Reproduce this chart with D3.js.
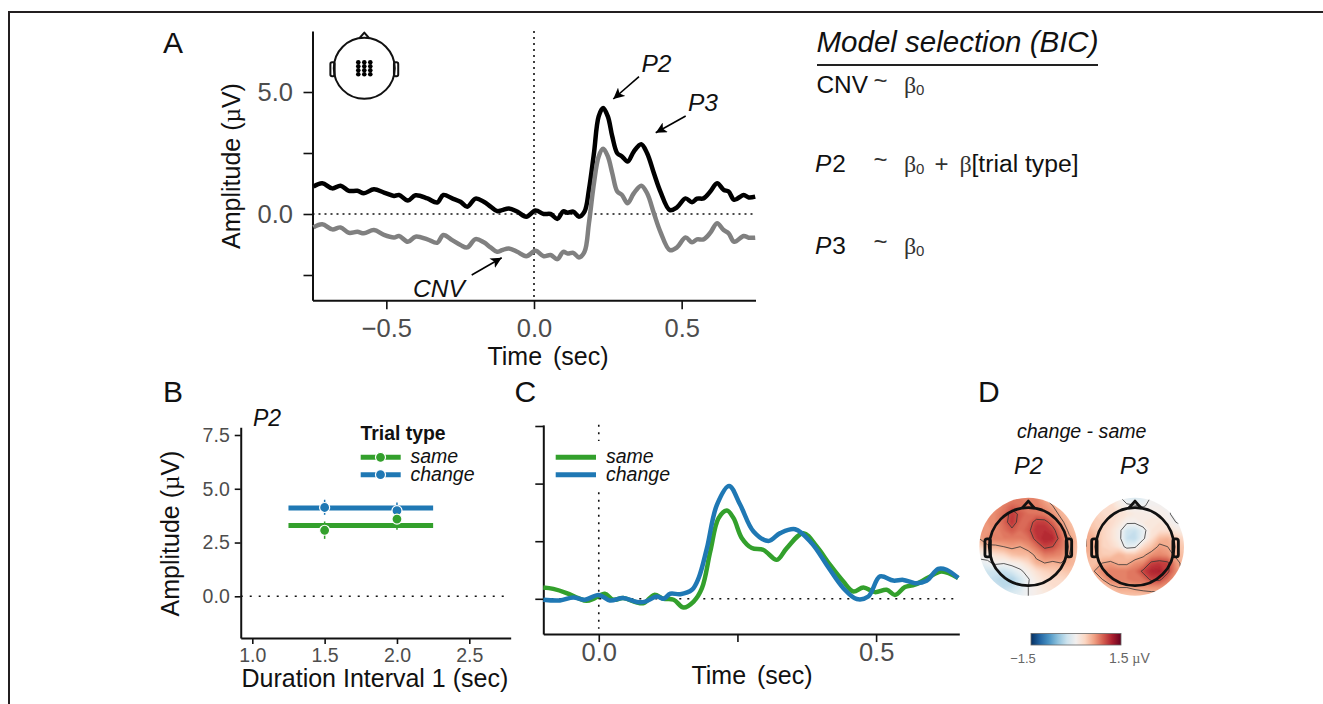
<!DOCTYPE html>
<html lang="en">
<head>
  <meta charset="UTF-8">
  <title>ERP amplitude and model selection</title>
  <script src="https://d3js.org/d3.v7.min.js"></script>
  <style>
    body { margin: 0; padding: 0; background-color: #fff; }
    svg { display: block; }
    text { font-family: "Liberation Sans", Arial, sans-serif; }
    .tick-label text { fill: #4d4d4d; }
    .it { font-style: italic; }
    .sym { font-family: "Liberation Serif", serif; }
  </style>
</head>
<body>
  <svg width="1323" height="704"></svg>
  <script>
    // panel A, time in sec, amplitude in uV
    const timeA = [-.747,-.717,-.683,-.655,-.627,-.598,-.576,-.542,-.508,-.474,-.457,-.427,-.401,-.361,-.328,-.307,-.277,-.249,-.226,-.198,-.17,-.147,-.125,-.108,-.085,-.057,-.026,.005,.033,.056,.079,.099,.114,.133,.152,.171,.186,.203,.219,.234,.25,.265,.282,.298,.317,.338,.363,.383,.406,.428,.46,.484,.513,.535,.552,.574,.597,.62,.642,.659,.678,.71,.727,.749];
    const meanBlack = [1.12,1.26,1.05,1.16,.95,.95,.85,1.01,.88,.74,.78,.55,.77,.64,.47,.78,.64,.5,.3,.63,.5,.3,.12,.16,.23,.1,-.11,.14,0,0,-.2,.11,.05,.1,-.11,.1,.99,2.49,4.0,4.34,4.0,3.18,2.49,2.36,2.15,2.56,2.86,2.49,1.67,.92,.16,.27,.64,.48,.63,.64,.92,1.26,.99,.92,.58,.78,.68,.71];
    const meanGray = [-.55,-.42,-.63,-.55,-.77,-.73,-.79,-.66,-.86,-.96,-.9,-1.14,-.93,-1.04,-1.18,-.86,-1.07,-1.27,-1.37,-1.03,-1.16,-1.37,-1.55,-1.48,-1.41,-1.55,-1.73,-1.51,-1.73,-1.68,-1.85,-1.55,-1.62,-1.59,-1.78,-1.55,-.38,1.26,2.36,2.67,2.36,1.67,.92,.78,.44,.85,1.16,.85,.03,-.73,-1.48,-1.37,-.96,-1.16,-1.04,-1.04,-.77,-.38,-.66,-.79,-1.14,-.9,-.97,-.97];
    const ticksAx = [-0.5, 0, 0.5];
    const ticksAy = [-2.5, 0, 2.5, 5];
    const labelledAy = [0, 5];

    // panel B
    const durations = [1.5, 2.0];
    const modelSpan = [1.25, 2.25];
    const sameFit = 3.29;
    const changeFit = 4.11;
    const sameMean = [3.07, 3.59];
    const changeMean = [4.13, 3.98];
    const sameLow = [2.67, 3.1];
    const sameHigh = [3.48, 3.87];
    const changeLow = [3.79, 3.63];
    const changeHigh = [4.49, 4.36];
    const ticksBx = [1, 1.5, 2, 2.5];
    const ticksBy = [0, 2.5, 5, 7.5];

    // panel C
    const timeSame = [-.1,-.082,-.058,-.037,-.022,-.007,.011,.026,.044,.066,.081,.1,.117,.135,.153,.171,.186,.201,.216,.231,.243,.258,.276,.297,.321,.339,.369,.393,.417,.441,.459,.477,.498,.519,.534,.552,.57,.594,.618,.648];
    const ampSame = [.49,.43,.25,.03,-.09,.03,.22,-.04,.03,-.14,-.19,.17,0,-.04,-.38,-.12,.46,2.05,3.5,3.83,3.5,2.63,2.2,2.12,1.69,2.2,2.85,2.27,1.47,.75,.32,.49,.29,.39,.17,.51,.61,.92,1.18,.9];
    const timeChange = [-.1,-.07,-.046,-.025,0,.02,.044,.069,.084,.105,.117,.129,.147,.168,.18,.195,.213,.235,.255,.279,.306,.327,.354,.384,.411,.441,.465,.486,.507,.531,.549,.57,.591,.612,.627,.648];
    const ampChange = [-.04,-.07,.06,-.04,.17,-.07,.03,-.14,-.12,.1,0,.22,.2,.39,.9,2.2,4.08,4.9,4.08,2.92,2.51,2.85,3.02,2.41,1.47,.46,-.01,.1,.97,.79,.82,.68,.78,1.3,1.26,.9];
    const ticksCx = [0, 0.25, 0.5];
    const labelledCx = [0, 0.5];
    const ticksCy = [0, 2.5, 5, 7.5];

    // panel D, change - same in uV, 13 x 13 cells, top row first
    const topoP2 = [
      .7,.7,.7,.7,.75,.8,.8,.75,.6,.5,.45,.4,.4,
      .7,.7,.7,.8,.9,.85,.8,.8,.7,.6,.5,.4,.4,
      .65,.7,.75,.85,1.1,.95,.85,.85,.8,.7,.55,.45,.4,
      .7,.7,.75,.9,1.12,.9,.9,1.08,1.08,.9,.65,.5,.4,
      .75,.65,.75,.85,.95,.85,.95,1.15,1.15,1.08,.8,.55,.45,
      .6,.75,.8,.8,.8,.8,.85,1.08,1.2,1.18,.9,.65,.5,
      .3,.55,.55,.6,.65,.6,.7,.85,1.05,1.0,.85,.65,.45,
      .1,.1,.25,.3,.45,.5,.5,.65,.8,.8,.75,.6,.45,
      -.1,-.05,.05,.02,.1,.15,.3,.55,.6,.55,.6,.55,.5,
      -.3,-.25,-.25,-.3,-.2,-.05,.1,.25,.35,.4,.4,.45,.45,
      -.3,-.3,-.35,-.4,-.45,-.25,-.02,.15,.25,.3,.3,.35,.35,
      -.25,-.25,-.3,-.35,-.3,-.2,0,.1,.2,.25,.25,.3,.3,
      -.2,-.2,-.2,-.2,-.15,-.1,0,.1,.15,.2,.2,.25,.25
    ];
    const topoP3 = [
      .3,.3,.3,.25,.05,-.15,-.2,-.15,.02,.05,.05,0,0,
      .35,.3,.3,.3,.15,.05,.02,-.02,.05,.05,.03,-.05,-.1,
      .4,.35,.3,.3,.25,.2,.15,.15,.1,.1,.05,-.1,-.15,
      .45,.4,.35,.3,.2,.05,.05,.15,.2,.2,.1,0,-.1,
      .55,.45,.35,.25,.1,-.25,-.3,-.1,.2,.25,.25,.15,.1,
      .6,.55,.35,.25,.1,-.3,-.35,-.05,.25,.5,.55,.4,.3,
      .6,.55,.35,.3,.2,-.1,-.05,.3,.45,.65,.6,.5,.4,
      .55,.5,.4,.4,.55,.45,.45,.55,.7,.75,.7,.55,.45,
      .5,.45,.6,.65,.55,.55,.7,.75,1.05,1.1,1.05,.7,.5,
      .45,.6,.75,.8,.8,.8,.85,1.05,1.2,1.22,1.05,.75,.5,
      .35,.45,.6,.8,.8,.8,.85,.85,1.05,1.05,.85,.65,.5,
      .3,.35,.45,.5,.6,.6,.65,.7,.7,.7,.65,.55,.45,
      .3,.3,.35,.4,.45,.45,.45,.45,.5,.5,.45,.4,.4
    ];
    const contourLevels = [0, 0.6, 1.0];
    const colorRange = [-1.5, 1.5];

    // sensors on the small head in A
    const sensorX = [-6, 0, 6];
    const sensorY = [-6, -2, 2, 6];

    const green = "#33a02c";
    const blue = "#1f78b4";
    const svg = d3.select("svg");

    // outer frame, open at the right and bottom
    svg.append("path")
      .attr("d", "M9,704V12H1323")
      .attr("fill", "none")
      .attr("stroke", "#231f20")
      .attr("stroke-width", 2);

    const defs = svg.append("defs");
    defs.append("marker")
      .attr("id", "arrow")
      .attr("viewBox", "0 0 10 10")
      .attr("refX", 10).attr("refY", 5)
      .attr("markerWidth", 11).attr("markerHeight", 11)
      .attr("markerUnits", "userSpaceOnUse")
      .attr("orient", "auto")
      .append("path")
      .attr("d", "M0,0L10,5L0,10L2.5,5Z")
      .attr("fill", "#000");
    defs.append("filter").attr("id", "soft")
      .append("feGaussianBlur").attr("stdDeviation", 1);

    function label(x, y, txt, size, cls, anchor) {
      return svg.append("text")
        .attr("x", x).attr("y", y)
        .attr("font-size", size)
        .attr("class", cls || null)
        .attr("text-anchor", anchor || "start")
        .attr("fill", "#111")
        .text(txt);
    }

    function yTitle(x, y, size) {
      const t = svg.append("text")
        .attr("transform", `translate(${x},${y}) rotate(-90)`)
        .attr("text-anchor", "middle")
        .attr("font-size", size)
        .attr("fill", "#111");
      t.append("tspan").text("Amplitude (");
      t.append("tspan").attr("class", "sym").text("µ");
      t.append("tspan").text("V)");
    }

    // draws both axes with d3 and strips the parts we dont want
    function axes(x, y, o) {
      const [x0, x1] = x.range();
      const [y0, y1] = y.range();
      const gx = svg.append("g")
        .attr("class", "tick-label")
        .attr("transform", `translate(0,${y0})`)
        .call(d3.axisBottom(x).tickValues(o.xTicks).tickSize(o.tick).tickSizeOuter(0).tickPadding(o.padX)
          .tickFormat(d => o.xLabels.includes(d) ? d3.format(".1f")(d).replace("-", "\u2212") : ""));
      const gy = svg.append("g")
        .attr("class", "tick-label")
        .attr("transform", `translate(${x0},0)`)
        .call(d3.axisLeft(y).tickValues(o.yTicks).tickSize(o.tick).tickSizeOuter(0).tickPadding(o.padY)
          .tickFormat(d => o.yLabels.includes(d) ? d3.format(".1f")(d) : ""));
      [gx, gy].forEach(g => {
        g.selectAll("text").attr("font-size", o.font).attr("font-family", null);
        g.selectAll("line").attr("stroke", "#111").attr("stroke-width", 1.6);
        g.select(".domain").attr("stroke", "#111").attr("stroke-width", 2);
      });
    }

    function dotted(x1, y1, x2, y2, gap) {
      svg.append("line")
        .attr("x1", x1).attr("y1", y1).attr("x2", x2).attr("y2", y2)
        .attr("stroke", "#111")
        .attr("stroke-width", 1.6)
        .attr("stroke-dasharray", `2 ${gap}`);
    }

    function trace(x, y, xs, ys, color, w) {
      const line = d3.line()
        .x((d, i) => x(xs[i]))
        .y(d => y(d))
        .curve(d3.curveCatmullRom.alpha(0.5));
      svg.append("path")
        .attr("d", line(ys))
        .attr("fill", "none")
        .attr("stroke", color)
        .attr("stroke-width", w)
        .attr("stroke-linejoin", "round");
    }

    // ---- panel A
    const xA = d3.scaleLinear().domain([-0.75, 0.75]).range([312.5, 755.5]);
    const yA = d3.scaleLinear().domain([0, 5]).range([214, 92]);
    yA.range([yA(-3.53), yA(7.5)]).domain([-3.53, 7.5]);

    axes(xA, yA, { xTicks: ticksAx, yTicks: ticksAy, xLabels: ticksAx, yLabels: labelledAy, tick: 9, padX: 10, padY: 10.5, font: 25.5 });
    dotted(xA(-0.75), yA(0), xA(0.75), yA(0), 4);
    dotted(xA(0), yA(7.5), xA(0), yA(-3.53), 4);
    trace(xA, yA, timeA, meanBlack, "#000", 4.5);
    trace(xA, yA, timeA, meanGray, "#808080", 4.5);

    label(163, 53, "A", 30);
    yTitle(240, 166, 25);
    label(548, 365, "Time (sec)", 25, null, "middle").attr("word-spacing", 4);
    label(641.5, 71.5, "P2", 24.5, "it");
    label(688, 110.5, "P3", 24.5, "it");
    label(413, 296.5, "CNV", 24.5, "it");

    const arrowLines = [[639, 76.7, 613.3, 99], [685.7, 116, 655.7, 132.7], [471.7, 275, 501.7, 257.7]];
    svg.selectAll(".arrow-line")
      .data(arrowLines)
      .enter()
      .append("line")
      .attr("x1", d => d[0]).attr("y1", d => d[1])
      .attr("x2", d => d[2]).attr("y2", d => d[3])
      .attr("stroke", "#000")
      .attr("stroke-width", 1.6)
      .attr("marker-end", "url(#arrow)");

    function head(cx, cy, r, w) {
      const g = svg.append("g").attr("transform", `translate(${cx},${cy})`)
        .attr("fill", "none").attr("stroke", "#111").attr("stroke-width", w);
      const earW = r * 0.14, earH = r * 0.46;
      g.append("path").attr("d", `M${-r * 0.16},${-r * 0.985}L0,${-r * 1.17}L${r * 0.16},${-r * 0.985}`).attr("stroke-linejoin", "round");
      [-1, 1].forEach(s => {
        g.append("rect")
          .attr("x", s < 0 ? -r - earW * 0.8 : r - earW * 0.2)
          .attr("y", -earH / 2 + r * 0.03)
          .attr("width", earW).attr("height", earH)
          .attr("rx", earW * 0.4);
      });
      g.append("circle").attr("r", r);
      return g;
    }

    const inset = head(364.3, 68.3, 30.5, 2);
    sensorY.forEach(dy => sensorX.forEach(dx => {
      inset.append("circle").attr("cx", dx).attr("cy", dy).attr("r", 2.3)
        .attr("fill", "#000").attr("stroke", "none");
    }));

    // ---- model selection text
    label(816.5, 51.5, "Model selection (BIC)", 29.5, "it");
    svg.append("line")
      .attr("x1", 817).attr("x2", 1098).attr("y1", 65).attr("y2", 65)
      .attr("stroke", "#222").attr("stroke-width", 2);

    function beta(x, y, sub) {
      svg.append("text").attr("class", "sym").attr("x", x).attr("y", y)
        .attr("font-size", 24).attr("fill", "#333").text("β");
      if (sub) label(x + 12, y + 2, "0", 15).attr("fill", "#333");
    }
    function tilde(y) {
      svg.append("text").attr("x", 873.5).attr("y", y)
        .attr("font-size", 24).attr("fill", "#333").text("~");
    }
    const rowY = [93, 171.5, 254];
    label(816.5, rowY[0], "CNV", 24.4);
    [["P", "2", rowY[1]], ["P", "3", rowY[2]]].forEach(d => {
      const t = label(815, d[2], "", 24.4);
      t.append("tspan").attr("class", "it").text(d[0]);
      t.append("tspan").attr("dx", 1).text(d[1]);
    });
    rowY.forEach((y, i) => {
      tilde(y - 4);
      beta(904, y, true);
    });
    label(934.5, rowY[1], "+", 24).attr("fill", "#333");
    beta(959.5, rowY[1], false);
    label(971.5, rowY[1], "[trial type]", 24.7);

    // ---- panel B
    const xB = d3.scaleLinear().domain([1, 2.5]).range([252.3, 469.3]);
    xB.range([xB(0.92), xB(2.786)]).domain([0.92, 2.786]);
    const yB = d3.scaleLinear().domain([0, 7.5]).range([596.3, 435]);
    yB.range([yB(-1.94), yB(7.86)]).domain([-1.94, 7.86]);

    axes(xB, yB, { xTicks: ticksBx, yTicks: ticksBy, xLabels: ticksBx, yLabels: ticksBy, tick: 6, padX: 4, padY: 5, font: 19.5 });
    dotted(xB.range()[0], yB(0), xB.range()[1], yB(0), 7);

    function fitRow(fit, mean, low, high, color) {
      svg.append("line")
        .attr("x1", xB(modelSpan[0])).attr("x2", xB(modelSpan[1]))
        .attr("y1", yB(fit)).attr("y2", yB(fit))
        .attr("stroke", "#fff").attr("stroke-width", 7);
      svg.append("line")
        .attr("x1", xB(modelSpan[0])).attr("x2", xB(modelSpan[1]))
        .attr("y1", yB(fit)).attr("y2", yB(fit))
        .attr("stroke", color).attr("stroke-width", 5);
      durations.forEach((d, i) => {
        svg.append("line")
          .attr("x1", xB(d)).attr("x2", xB(d))
          .attr("y1", yB(low[i])).attr("y2", yB(high[i]))
          .attr("stroke", color).attr("stroke-width", 1.5);
      });
      svg.append("g").selectAll("circle")
        .data(mean)
        .enter()
        .append("circle")
        .attr("cx", (d, i) => xB(durations[i]))
        .attr("cy", d => yB(d))
        .attr("r", 5)
        .attr("fill", color)
        .attr("stroke", "#fff")
        .attr("stroke-width", 1.2);
    }
    fitRow(changeFit, changeMean, changeLow, changeHigh, blue);
    fitRow(sameFit, sameMean, sameLow, sameHigh, green);

    label(163, 402, "B", 30);
    yTitle(179, 533.5, 25);
    label(241.5, 686.5, "Duration Interval 1 (sec)", 25);
    label(253, 426, "P2", 23, "it");
    label(360.5, 440, "Trial type", 19.4).attr("font-weight", "bold");

    [[green, 457.3, "same", 462.5], [blue, 474.7, "change", 480.5]].forEach(d => {
      svg.append("line")
        .attr("x1", 360.7).attr("x2", 400.7).attr("y1", d[1]).attr("y2", d[1])
        .attr("stroke", d[0]).attr("stroke-width", 5);
      svg.append("circle")
        .attr("cx", 380.5).attr("cy", d[1]).attr("r", 5)
        .attr("fill", d[0]).attr("stroke", "#fff").attr("stroke-width", 1.2);
      label(410.5, d[3], d[2], 19.5, "it");
    });

    // ---- panel C
    const xC = d3.scaleLinear().domain([-0.1, 0.65]).range([543.3, 959.3]);
    const yC = d3.scaleLinear().domain([0, 7.5]).range([598.8, 426]);
    yC.range([yC(-1.53), yC(7.55)]).domain([-1.53, 7.55]);

    axes(xC, yC, { xTicks: ticksCx, yTicks: ticksCy, xLabels: labelledCx, yLabels: [], tick: 8, padX: 1, padY: 4, font: 25.5 });
    dotted(xC.range()[0], yC(0), xC.range()[1], yC(0), 6);
    dotted(xC(0), yC(7.55), xC(0), yC(-1.3), 5.5);
    svg.append("rect")
      .attr("x", 552).attr("y", 441).attr("width", 120).attr("height", 50)
      .attr("fill", "#fff");
    trace(xC, yC, timeSame, ampSame, green, 4.5);
    trace(xC, yC, timeChange, ampChange, blue, 4.5);

    [[green, 457.3, "same", 462.5], [blue, 474.7, "change", 480.5]].forEach(d => {
      svg.append("line")
        .attr("x1", 555.7).attr("x2", 596).attr("y1", d[1]).attr("y2", d[1])
        .attr("stroke", d[0]).attr("stroke-width", 5);
      label(606, d[3], d[2], 19.5, "it");
    });

    label(514.5, 402, "C", 30);
    label(752, 684, "Time (sec)", 25, null, "middle").attr("word-spacing", 4);

    // ---- panel D
    const colorOf = d3.scaleSequential(t => d3.interpolateRdBu(1 - t)).domain(colorRange);

    function topo(values, cx, cy, id) {
      const n = 13, R = 49, cell = 2 * R / (n - 1);
      const contours = d3.contours().size([n, n]);
      const path = d3.geoPath(d3.geoTransform({
        point(px, py) {
          this.stream.point(cx - R + (px - 0.5) * cell, cy - R + (py - 0.5) * cell);
        }
      }));
      defs.append("clipPath").attr("id", id).append("circle")
        .attr("cx", cx).attr("cy", cy).attr("r", R);
      const g = svg.append("g").attr("clip-path", `url(#${id})`);
      g.append("g").attr("filter", "url(#soft)").selectAll(".band")
        .data(contours.thresholds(d3.range(-1.5, 1.51, 0.05))(values))
        .enter()
        .append("path")
        .attr("d", path)
        .attr("fill", d => colorOf(d.value));
      g.selectAll(".iso")
        .data(contours.thresholds(contourLevels)(values))
        .enter()
        .append("path")
        .attr("d", path)
        .attr("fill", "none")
        .attr("stroke", "#333")
        .attr("stroke-width", 0.8);
      head(cx, cy, 39, 2.8);
    }
    topo(topoP2, 1028.3, 546.7, "clip-p2");
    topo(topoP3, 1135, 546.7, "clip-p3");

    label(978, 402, "D", 30);
    label(1081.7, 438.3, "change - same", 19.6, "it", "middle");
    label(1014, 474.3, "P2", 23.6, "it");
    label(1120, 474.3, "P3", 23.6, "it");

    // colour bar
    const grad = defs.append("linearGradient").attr("id", "cbar");
    d3.range(0, 1.01, 0.1).forEach(t => {
      grad.append("stop")
        .attr("offset", `${t * 100}%`)
        .attr("stop-color", d3.interpolateRdBu(1 - t));
    });
    svg.append("rect")
      .attr("x", 1031).attr("y", 633.5).attr("width", 90).attr("height", 11.5)
      .attr("fill", "url(#cbar)")
      .attr("stroke", "#666").attr("stroke-width", 0.8);
    label(1023, 663, "\u22121.5", 13, null, "middle").attr("fill", "#666");
    const unit = label(1109, 663, "1.5 ", 14).attr("fill", "#666");
    unit.append("tspan").attr("class", "sym").text("µ");
    unit.append("tspan").text("V");
  </script>
</body>
</html>
